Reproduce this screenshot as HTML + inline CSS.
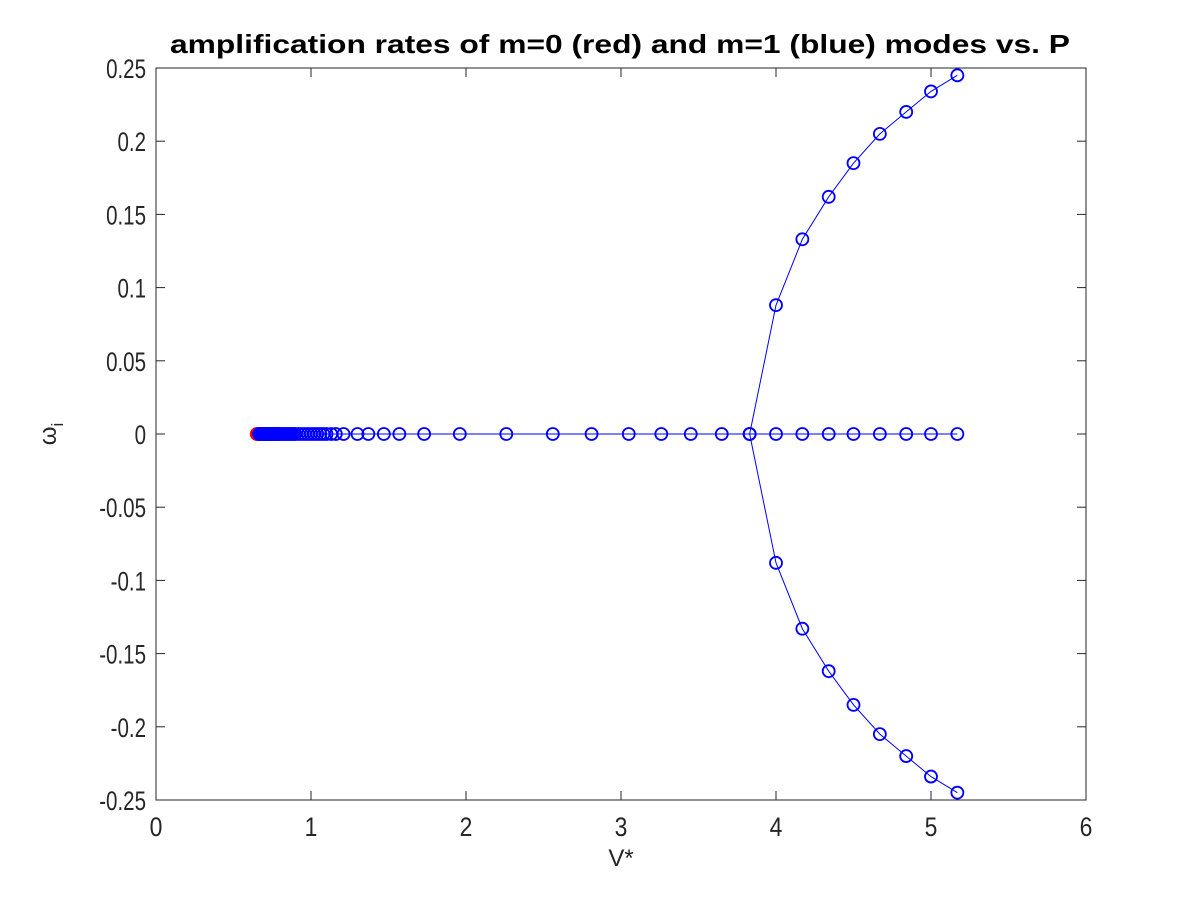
<!DOCTYPE html>
<html><head><meta charset="utf-8"><style>
body{margin:0;background:#fff;}
svg text{font-family:"Liberation Sans",sans-serif;}
</style></head><body>
<svg id="chart" width="1200" height="900" viewBox="0 0 1200 900" xmlns="http://www.w3.org/2000/svg">
<rect width="1200" height="900" fill="#fff"/>
<text x="170" y="53" font-size="26" font-weight="bold" fill="#000" textLength="900" lengthAdjust="spacingAndGlyphs">amplification rates of m=0 (red) and m=1 (blue) modes vs. P</text>
<g id="axes"></g>
<g id="series"></g>
<text x="621" y="866" text-anchor="middle" font-size="24" fill="#262626">V*</text>
<text transform="translate(56,434) rotate(-90)" text-anchor="middle" font-size="24" fill="#262626">ω<tspan font-size="17" dy="7">i</tspan></text>
</svg>
<script>
const xTicks=[0,1,2,3,4,5,6];
const yTicks=[0.25,0.2,0.15,0.1,0.05,0,-0.05,-0.1,-0.15,-0.2,-0.25];
const yTickLabels=["0.25","0.2","0.15","0.1","0.05","0","-0.05","-0.1","-0.15","-0.2","-0.25"];
const blueZeroX=[0.665,0.67,0.675,0.68,0.685,0.69,0.695,0.70,0.705,0.71,0.715,0.72,0.725,0.73,0.735,0.74,0.745,0.75,0.755,0.76,0.765,0.77,0.775,0.78,0.785,0.79,0.80,0.81,0.82,0.83,0.84,0.85,0.86,0.87,0.88,0.89,0.90,0.92,0.94,0.96,0.98,1.00,1.02,1.04,1.06,1.08,1.10,1.13,1.16,1.21,1.30,1.37,1.47,1.57,1.73,1.96,2.26,2.56,2.81,3.05,3.26,3.45,3.65,3.83,4.00,4.17,4.34,4.50,4.67,4.84,5.00,5.17];
const branchX=[3.83,4.00,4.17,4.34,4.50,4.67,4.84,5.00,5.17];
const upperY=[0,0.088,0.133,0.162,0.185,0.205,0.220,0.234,0.245];
const lowerY=[0,-0.088,-0.133,-0.162,-0.185,-0.205,-0.220,-0.234,-0.245];
const redX=[0.650,0.655,0.660,0.665,0.670,0.675,0.680,0.685];
const redY=[0,0,0,0,0,0,0,0];

const X0=156,X1=1086,Y0=800,Y1=68;
const xs=v=>X0+(v-0)/(6-0)*(X1-X0);
const ys=v=>Y0-(v+0.25)/0.5*(Y0-Y1);
const NS="http://www.w3.org/2000/svg";
function mk(t,a,p){const e=document.createElementNS(NS,t);for(const k in a)e.setAttribute(k,a[k]);p.appendChild(e);return e;}
const ax=document.getElementById('axes'),se=document.getElementById('series');
const frame=mk('rect',{x:X0,y:Y1,width:X1-X0,height:Y0-Y1,fill:'none',stroke:'#262626','stroke-width':1},ax);


xTicks.forEach(v=>{
 const x=xs(v);
 mk('line',{x1:x,y1:Y0,x2:x,y2:Y0-9,stroke:'#262626'},ax);
 mk('line',{x1:x,y1:Y1,x2:x,y2:Y1+9,stroke:'#262626'},ax);
 const t=mk('text',{x:x,y:Y0+36,'text-anchor':'middle','font-size':27,fill:'#262626',transform:`translate(${x},0) scale(0.85,1) translate(${-x},0)`},ax);
 t.textContent=String(v);
 
 
});
yTicks.forEach((v,i)=>{
 const y=ys(v);
 mk('line',{x1:X0,y1:y,x2:X0+9,y2:y,stroke:'#262626'},ax);
 mk('line',{x1:X1,y1:y,x2:X1-9,y2:y,stroke:'#262626'},ax);
 const x=X0-10;
 const t=mk('text',{x:x,y:y+10,'text-anchor':'end','font-size':27,fill:'#262626',transform:`translate(${x},0) scale(0.76,1) translate(${-x},0)`},ax);
 t.textContent=yTickLabels[i];
 
 
});
function series(xa,ya,color,name){
 const g=mk('g',{},se);
 
 
 const pts=xa.map((v,i)=>xs(v)+','+ys(ya[i])).join(' ');
 mk('polyline',{points:pts,fill:'none',stroke:color,'stroke-width':1},g);
 xa.forEach((v,i)=>{
  const c=mk('circle',{cx:xs(v),cy:ys(ya[i]),r:6,fill:'none',stroke:color,'stroke-width':1.8},g);
  
  
 });
}
series(redX,redY,'#ff0000','red-m0-series');
series(blueZeroX,blueZeroX.map(()=>0),'#0000ff','blue-zero-branch');
series(branchX,upperY,'#0000ff','blue-upper-branch');
series(branchX,lowerY,'#0000ff','blue-lower-branch');
</script>
</body></html>
